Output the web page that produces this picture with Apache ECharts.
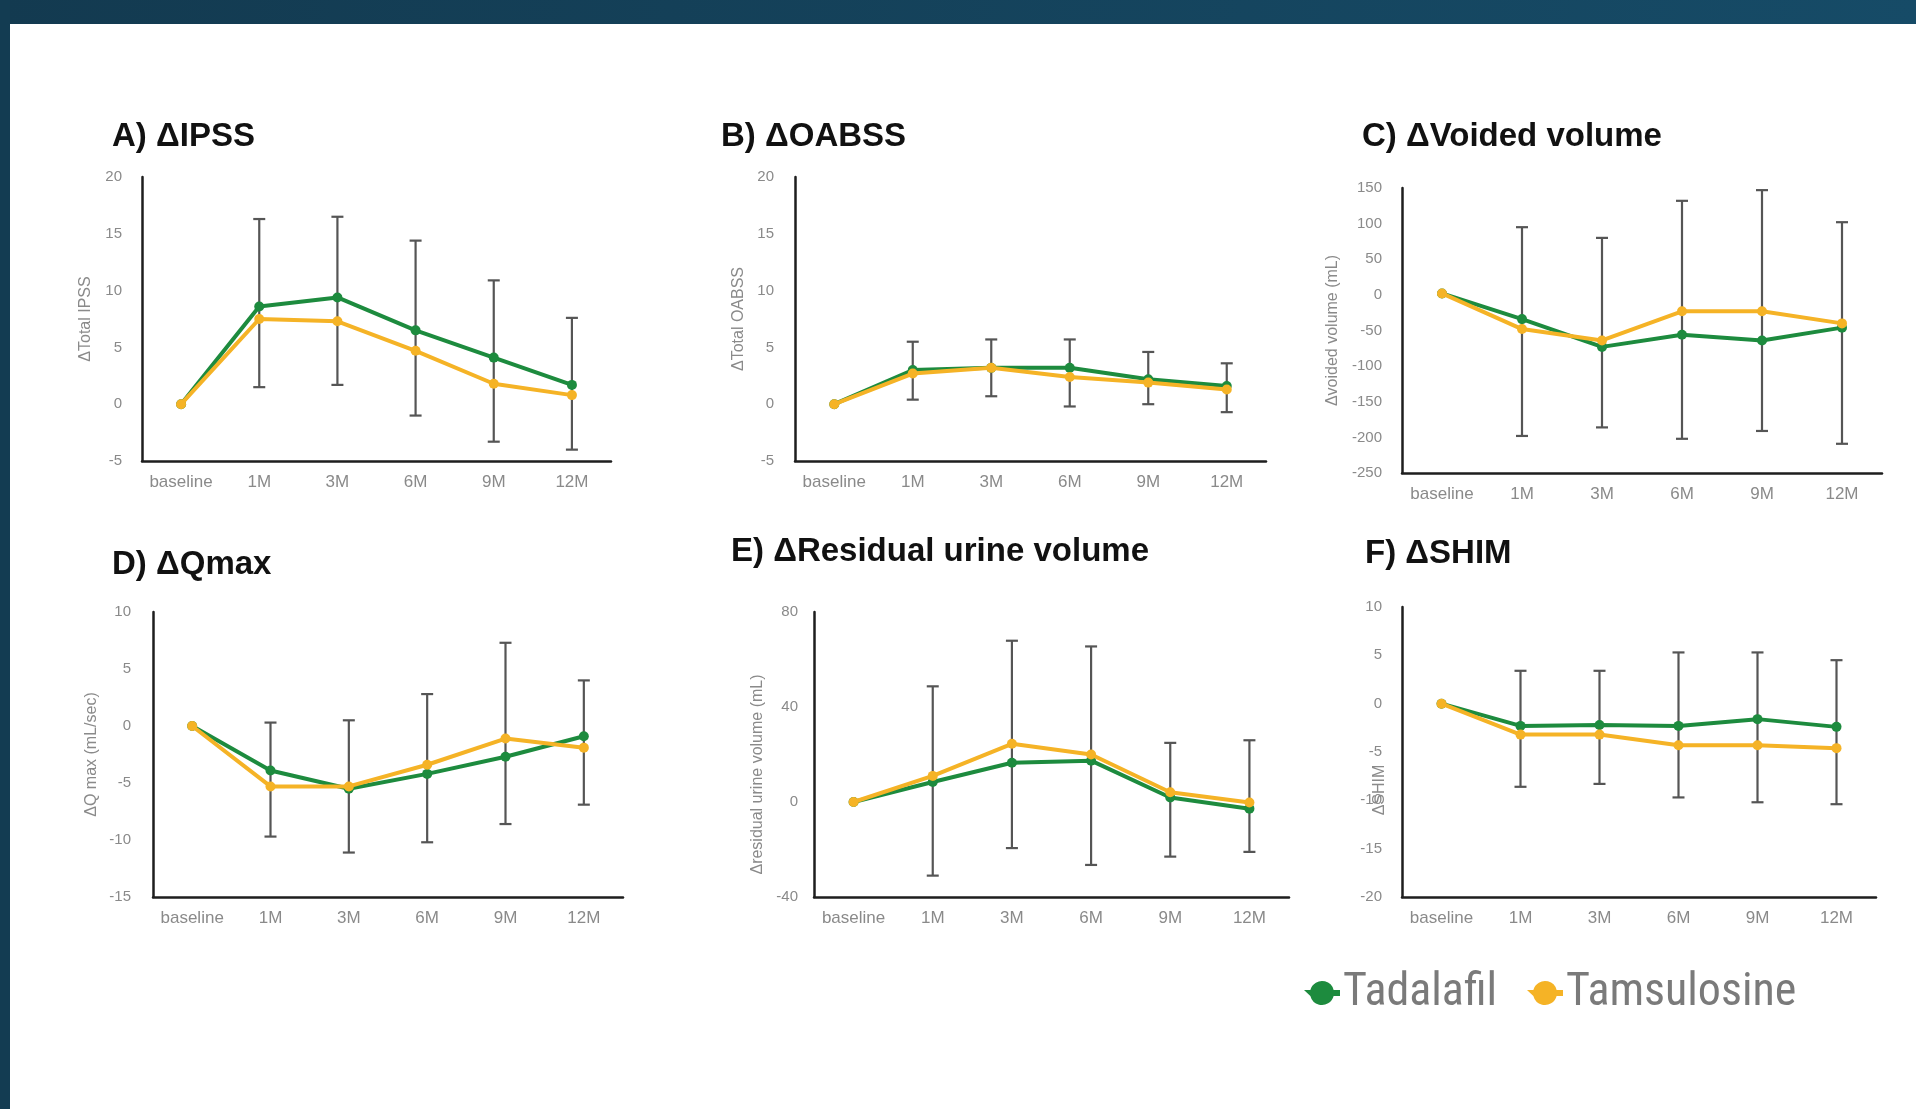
<!DOCTYPE html>
<html>
<head>
<meta charset="utf-8">
<script src="https://cdn.jsdelivr.net/npm/echarts@6/dist/echarts.min.js"></script>
<style>
  html, body { margin:0; padding:0; background:#ffffff; }
  #chart { width:1916px; height:1109px; }
</style>
</head>
<body>
<div id="chart"></div>
<script>
// ---------- DATA ----------
var categories = ['baseline', '1M', '3M', '6M', '9M', '12M'];
var seriesNames = ['Tadalafil', 'Tamsulosine'];

var titles = ['A) ΔIPSS', 'B) ΔOABSS', 'C) ΔVoided volume', 'D) ΔQmax', 'E) ΔResidual urine volume', 'F) ΔSHIM'];
var yNames = ['ΔTotal IPSS', 'ΔTotal OABSS', 'Δvoided volume (mL)', 'ΔQ max (mL/sec)', 'Δresidual urine volume (mL)', 'ΔSHIM'];

// y-axis tick ranges [min, max, interval]
var yRangeA = [-5, 20, 5];
var yRangeB = [-5, 20, 5];
var yRangeC = [-250, 150, 50];
var yRangeD = [-15, 10, 5];
var yRangeE = [-40, 80, 40];
var yRangeF = [-20, 10, 5];

// A) IPSS
var ipssTadalafil   = [0, 8.6, 9.4, 6.5, 4.1, 1.7];
var ipssTamsulosine = [0, 7.5, 7.3, 4.7, 1.8, 0.8];
var ipssErrLow      = [null, 1.5, 1.7, -1.0, -3.3, -4.0];
var ipssErrHigh     = [null, 16.3, 16.5, 14.4, 10.9, 7.6];

// B) OABSS
var oabssTadalafil   = [0, 3.0, 3.2, 3.2, 2.2, 1.6];
var oabssTamsulosine = [0, 2.7, 3.2, 2.4, 1.9, 1.3];
var oabssErrLow      = [null, 0.4, 0.7, -0.2, 0.0, -0.7];
var oabssErrHigh     = [null, 5.5, 5.7, 5.7, 4.6, 3.6];

// C) Voided volume
var vvTadalafil   = [2, -34, -73, -56, -64, -46];
var vvTamsulosine = [2, -48, -64, -23, -23, -40];
var vvErrLow      = [null, -198, -186, -202, -191, -209];
var vvErrHigh     = [null, 95, 80, 132, 147, 102];

// D) Qmax
var qmaxTadalafil   = [0, -3.9, -5.5, -4.2, -2.7, -0.9];
var qmaxTamsulosine = [0, -5.3, -5.3, -3.4, -1.1, -1.9];
var qmaxErrLow      = [null, -9.7, -11.1, -10.2, -8.6, -6.9];
var qmaxErrHigh     = [null, 0.3, 0.5, 2.8, 7.3, 4.0];

// E) Residual urine volume
var ruvTadalafil   = [0, 8.4, 16.5, 17.4, 1.9, -2.8];
var ruvTamsulosine = [0, 11.0, 24.5, 20.0, 4.1, -0.2];
var ruvErrLow      = [null, -31, -19.4, -26.5, -23, -21];
var ruvErrHigh     = [null, 48.7, 67.9, 65.5, 24.9, 26];

// F) SHIM
var shimTadalafil   = [0, -2.3, -2.2, -2.3, -1.6, -2.4];
var shimTamsulosine = [0, -3.2, -3.2, -4.3, -4.3, -4.6];
var shimErrLow      = [null, -8.6, -8.3, -9.7, -10.2, -10.4];
var shimErrHigh     = [null, 3.4, 3.4, 5.3, 5.3, 4.5];

// ---------- LAYOUT / STYLE ----------
var panels = [
  {green: ipssTadalafil,  orange: ipssTamsulosine,  lo: ipssErrLow,  hi: ipssErrHigh,  range: yRangeA},
  {green: oabssTadalafil, orange: oabssTamsulosine, lo: oabssErrLow, hi: oabssErrHigh, range: yRangeB},
  {green: vvTadalafil,    orange: vvTamsulosine,    lo: vvErrLow,    hi: vvErrHigh,    range: yRangeC},
  {green: qmaxTadalafil,  orange: qmaxTamsulosine,  lo: qmaxErrLow,  hi: qmaxErrHigh,  range: yRangeD},
  {green: ruvTadalafil,   orange: ruvTamsulosine,   lo: ruvErrLow,   hi: ruvErrHigh,   range: yRangeE},
  {green: shimTadalafil,  orange: shimTamsulosine,  lo: shimErrLow,  hi: shimErrHigh,  range: yRangeF}
];
var grids = [
  {left: 142,  top: 177, width: 469, height: 284},
  {left: 795,  top: 177, width: 471, height: 284},
  {left: 1402, top: 188, width: 480, height: 285},
  {left: 153,  top: 612, width: 470, height: 285},
  {left: 814,  top: 612, width: 475, height: 285},
  {left: 1402, top: 607, width: 474, height: 290}
];
var titlePos = [[112, 120], [721, 120], [1362, 120], [112, 548], [731, 535], [1365, 537]];
var nameGaps = [48, 48, 61, 53, 48, 14];
var namePads = [[0,0,0,0],[0,0,0,0],[0,0,0,0],[0,0,0,0],[0,40,0,0],[0,76,0,0]];
var labelMargins = [20, 21, 20, 22, 16, 20];

var GREEN = '#1d8b3e';
var ORANGE = '#f5b326';
var AXIS = '#1e1e1e';
var TICK = '#8a8a8a';
var ERR = '#555555';

var chart = echarts.init(document.getElementById('chart'), null, {renderer: 'canvas'});

var option = {
  backgroundColor: '#ffffff',
  animation: false,
  graphic: [
    {type: 'rect', z: -10, shape: {x: 0, y: 0, width: 1916, height: 24},
     style: {fill: new echarts.graphic.LinearGradient(0, 0, 1, 0, [
       {offset: 0, color: '#133a50'}, {offset: 1, color: '#164b67'}])}},
    {type: 'rect', z: -10, shape: {x: 0, y: 0, width: 10, height: 1109}, style: {fill: '#133c52'}}
  ],
  title: [],
  grid: [],
  xAxis: [],
  yAxis: [],
  legend: {
    data: seriesNames,
    left: 1299, top: 965,
    itemWidth: 36, itemHeight: 28, itemGap: 30,
    icon: 'path://M0,8 L4.25,8 A8,8 0 0 1 19.75,8 L24,8 L24,12 L19.75,12 A8,8 0 0 1 4.25,12 Z',
    textStyle: {fontSize: 46, color: '#7a7a7a', fontFamily: '"Liberation Sans Narrow", "Roboto Condensed", "Liberation Sans", sans-serif', padding: [0, 0, 0, -2]}
  },
  series: []
};

panels.forEach(function (p, i) {
  option.title.push({
    text: titles[i], left: titlePos[i][0], top: titlePos[i][1], padding: 0,
    textStyle: {fontSize: 33, fontWeight: 'bold', color: '#111111', fontFamily: '"Liberation Sans", Arial, sans-serif'}
  });
  option.grid.push(Object.assign({containLabel: false}, grids[i]));
  option.xAxis.push({
    gridIndex: i, type: 'category', data: categories, boundaryGap: true,
    axisLine: {show: true, onZero: false, lineStyle: {color: AXIS, width: 2.5}},
    axisTick: {show: false},
    axisLabel: {interval: 0, hideOverlap: false, color: TICK, fontSize: 17, margin: 13, fontFamily: '"Liberation Sans", Arial, sans-serif'},
    splitLine: {show: false}
  });
  option.yAxis.push({
    gridIndex: i, type: 'value', min: p.range[0], max: p.range[1], interval: p.range[2],
    axisLine: {show: true, onZero: false, lineStyle: {color: AXIS, width: 2.5}},
    axisTick: {show: false},
    splitLine: {show: false},
    axisLabel: {color: TICK, fontSize: 15, margin: labelMargins[i], fontFamily: '"Liberation Sans", Arial, sans-serif'},
    name: yNames[i], nameLocation: 'middle', nameGap: nameGaps[i], nameRotate: 90,
    nameMoveOverlap: false,
    nameTextStyle: {color: '#8a8a8a', fontSize: 16, padding: namePads[i], fontFamily: '"Liberation Sans", Arial, sans-serif'}
  });
  // error bars
  var errData = [];
  for (var k = 0; k < categories.length; k++) {
    if (p.lo[k] !== null && p.hi[k] !== null) errData.push([categories[k], p.lo[k], p.hi[k]]);
  }
  option.series.push({
    type: 'custom', xAxisIndex: i, yAxisIndex: i, z: 1, silent: true,
    encode: {x: 0, y: [1, 2]},
    data: errData,
    renderItem: function (params, api) {
      var lo = api.coord([api.value(0), api.value(1)]);
      var hi = api.coord([api.value(0), api.value(2)]);
      var cap = 6;
      var st = {stroke: ERR, lineWidth: 2.2};
      return {type: 'group', children: [
        {type: 'line', shape: {x1: hi[0], y1: hi[1], x2: lo[0], y2: lo[1]}, style: st},
        {type: 'line', shape: {x1: hi[0] - cap, y1: hi[1], x2: hi[0] + cap, y2: hi[1]}, style: st},
        {type: 'line', shape: {x1: lo[0] - cap, y1: lo[1], x2: lo[0] + cap, y2: lo[1]}, style: st}
      ]};
    }
  });
  option.series.push({
    name: seriesNames[0], type: 'line', xAxisIndex: i, yAxisIndex: i, z: 3,
    data: p.green, symbol: 'circle', symbolSize: 10,
    lineStyle: {color: GREEN, width: 4}, itemStyle: {color: GREEN}
  });
  option.series.push({
    name: seriesNames[1], type: 'line', xAxisIndex: i, yAxisIndex: i, z: 4,
    data: p.orange, symbol: 'circle', symbolSize: 10,
    lineStyle: {color: ORANGE, width: 4}, itemStyle: {color: ORANGE}
  });
});

chart.setOption(option);
</script>
</body>
</html>
